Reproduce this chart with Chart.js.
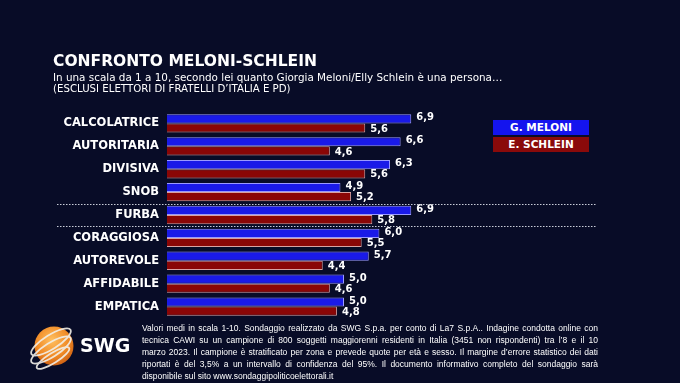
<!DOCTYPE html>
<html><head><meta charset="utf-8">
<script src="https://cdn.jsdelivr.net/npm/chart.js@4/dist/chart.umd.min.js"></script>
<style>
html,body{margin:0;padding:0;background:#080c27;}
#wrap{position:relative;width:680px;height:383px;overflow:hidden;background:#080c27;font-family:"DejaVu Sans",sans-serif;color:#fff;}
canvas{position:absolute;left:0;top:0;}
.t{position:absolute;white-space:nowrap;}
.leg{position:absolute;left:493px;width:96px;height:15px;line-height:15px;text-align:center;font-weight:bold;font-size:10.5px;color:#fff;}
#foot{position:absolute;left:142px;top:322px;width:456px;font-family:"Liberation Sans",sans-serif;font-size:8.5px;line-height:12px;color:#fff;}
#foot div{text-align:justify;text-align-last:justify;white-space:nowrap;}
#foot div.last{text-align-last:left;}
</style></head><body>
<div id="wrap">
<canvas id="c" width="680" height="383"></canvas>
<div class="t" style="left:53px;top:53px;font-weight:bold;font-size:16.5px;line-height:16.5px;transform:scaleX(0.94);transform-origin:0 0;">CONFRONTO MELONI-SCHLEIN</div>
<div class="t" style="left:53px;top:72px;font-size:10.4px;line-height:10.4px;">In una scala da 1 a 10, secondo lei quanto Giorgia Meloni/Elly Schlein è una persona…</div>
<div class="t" style="left:53px;top:84px;font-size:10.2px;line-height:10.2px;">(ESCLUSI ELETTORI DI FRATELLI D’ITALIA E PD)</div>
<div class="leg" id="leg0" style="top:120px;background:#1414ee;"></div>
<div class="leg" id="leg1" style="top:137px;background:#8a0a0a;"></div>
<svg style="position:absolute;left:22px;top:320px;" width="62" height="56" viewBox="0 0 62 56">
<defs><radialGradient id="g" cx="0.45" cy="0.35" r="0.7"><stop offset="0" stop-color="#ffc060"/><stop offset="0.6" stop-color="#f08a25"/><stop offset="1" stop-color="#c85a10"/></radialGradient></defs>
<circle cx="32" cy="26" r="19.5" fill="url(#g)"/>
<g fill="none" stroke="#f2efe8" stroke-width="1.8" opacity="0.9">
<ellipse cx="29" cy="22" rx="23" ry="7" transform="rotate(-32 29 22)"/>
<ellipse cx="29" cy="30" rx="23" ry="7" transform="rotate(-32 29 30)"/>
<ellipse cx="31" cy="38" rx="19" ry="5" transform="rotate(-32 31 38)"/>
</g>
</svg>
<div class="t" style="left:80px;top:336px;font-weight:bold;font-size:19px;line-height:19px;">SWG</div>
<div id="foot">
<div>Valori medi in scala 1-10. Sondaggio realizzato da SWG S.p.a. per conto di La7 S.p.A.. Indagine condotta online con</div>
<div>tecnica CAWI su un campione di 800 soggetti maggiorenni residenti in Italia (3451 non rispondenti) tra l’8 e il 10</div>
<div>marzo 2023. Il campione è stratificato per zona e prevede quote per età e sesso. Il margine d’errore statistico dei dati</div>
<div>riportati è del 3,5% a un intervallo di confidenza del 95%. Il documento informativo completo del sondaggio sarà</div>
<div class="last">disponibile sul sito www.sondaggipoliticoelettorali.it</div>
</div>
</div>
<script>
const categories = ["CALCOLATRICE","AUTORITARIA","DIVISIVA","SNOB","FURBA","CORAGGIOSA","AUTOREVOLE","AFFIDABILE","EMPATICA"];
const meloniValues = [6.9,6.6,6.3,4.9,6.9,6.0,5.7,5.0,5.0];
const schleinValues = [5.6,4.6,5.6,5.2,5.8,5.5,4.4,4.6,4.8];
const seriesNames = ["G. MELONI","E. SCHLEIN"];
const separatorsAfter = [3,4];

document.getElementById('leg0').textContent = seriesNames[0];
document.getElementById('leg1').textContent = seriesNames[1];

const valueLabels = {
  id:'valueLabels',
  afterDatasetsDraw(chart){
    const ctx = chart.ctx;
    ctx.save();
    ctx.fillStyle = '#ffffff';
    ctx.font = 'bold 10px "DejaVu Sans"';
    ctx.textBaseline = 'middle';
    ctx.textAlign = 'left';
    chart.data.datasets.forEach((ds,i)=>{
      const meta = chart.getDatasetMeta(i);
      meta.data.forEach((el,j)=>{
        const v = ds.data[j];
        ctx.fillText(v.toFixed(1).replace('.',','), el.x+5, el.y + (i===0?-1:1));
      });
    });
    ctx.restore();
  }
};
const separators = {
  id:'separators',
  afterDraw(chart){
    const ctx = chart.ctx, y = chart.scales.y;
    ctx.save();
    ctx.strokeStyle = '#c8ccd8';
    ctx.lineWidth = 1;
    ctx.setLineDash([1.5,1.5]);
    separatorsAfter.forEach(k=>{
      const py = Math.round((y.getPixelForValue(k)+y.getPixelForValue(k+1))/2)+0.5;
      ctx.beginPath(); ctx.moveTo(57,py); ctx.lineTo(597,py); ctx.stroke();
    });
    ctx.restore();
  }
};

new Chart(document.getElementById('c'), {
  type:'bar',
  data:{
    labels:categories,
    datasets:[
      {label:seriesNames[0], data:meloniValues, backgroundColor:'#1a1ae8', borderColor:'#9a9aff', borderWidth:1, categoryPercentage:0.8, barPercentage:1.0},
      {label:seriesNames[1], data:schleinValues, backgroundColor:'#8a0606', borderColor:'#d9a2a2', borderWidth:1, categoryPercentage:0.8, barPercentage:1.0}
    ]
  },
  options:{
    indexAxis:'y',
    responsive:false,
    animation:false,
    devicePixelRatio:1,
    layout:{padding:{top:112,bottom:65,left:0,right:159}},
    plugins:{legend:{display:false},tooltip:{enabled:false}},
    scales:{
      x:{display:false,min:0,max:10},
      y:{
        grid:{display:false,drawTicks:false},
        border:{display:false},
        ticks:{color:'#ffffff',padding:8,font:{family:'DejaVu Sans',weight:'bold',size:11.5}},
        afterFit(s){ s.width = 167; }
      }
    }
  },
  plugins:[valueLabels,separators]
});
</script>
</body></html>
